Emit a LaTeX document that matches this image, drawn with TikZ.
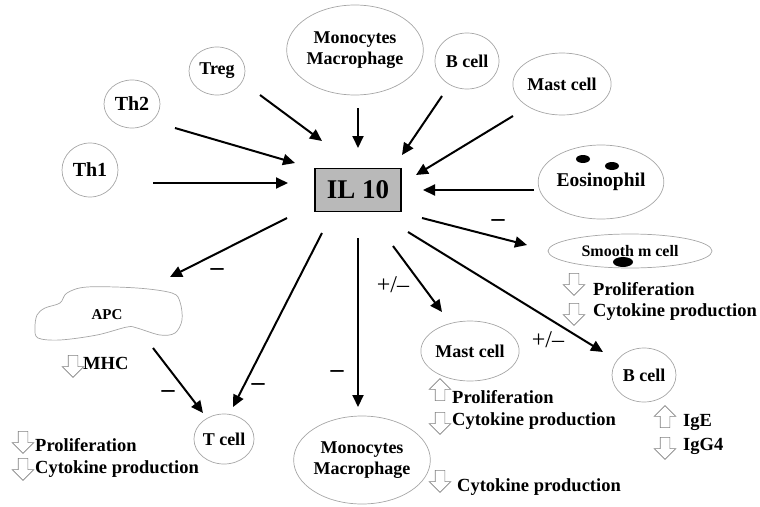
\documentclass[tikz,border=0pt]{standalone}
\usepackage{fontspec}
\setmainfont{Liberation Serif}
\usetikzlibrary{arrows.meta, shapes.geometric, shapes.arrows}

\tikzset{
  cell/.style={ellipse, draw=gray!70, line width=0.7pt, inner sep=0pt, align=center,
    font=\fontsize{18}{21}\selectfont\bfseries},
  arr/.style={-{Triangle[length=12pt, width=11pt]}, line width=2pt},
  hollow/.style={single arrow, draw=gray, line width=0.6pt, inner sep=4.5pt,
    single arrow head extend=6pt, minimum height=22pt},
  hollowdn/.style={hollow, shape border rotate=270},
  hollowup/.style={hollow, shape border rotate=90},
  note/.style={anchor=base west, inner sep=0pt, font=\fontsize{18.5}{21}\selectfont\bfseries},
  effect/.style={inner sep=0pt, font=\fontsize{26}{26}\selectfont\bfseries},
  mixed/.style={inner sep=0pt, font=\fontsize{24}{24}\selectfont}
}

\begin{document}
\begin{tikzpicture}[x=1pt, y=-1pt]
  \useasboundingbox (0,0) rectangle (760,506);

  % cells producing IL 10
  \node[cell, minimum width=56pt, minimum height=54pt, font=\fontsize{20}{22}\selectfont\bfseries] (th1) at (90,170) {Th1};
  \node[cell, minimum width=56pt, minimum height=48pt, font=\fontsize{20}{22}\selectfont\bfseries] (th2) at (132,104) {Th2};
  \node[cell, minimum width=56pt, minimum height=48pt] (treg) at (217,71) {Treg};
  \node[cell, minimum width=134pt, minimum height=90pt] (monoA) at (355,50) {Monocytes\\Macrophage};
  \node[cell, minimum width=64pt, minimum height=56pt] (bcellA) at (467,61) {B cell};
  \node[cell, minimum width=86pt, minimum height=62pt] (mastA) at (562,84) {Mast cell};
  \node[cell, minimum width=106pt, minimum height=74pt, font=\fontsize{19.5}{22}\selectfont\bfseries] (eos) at (601,182) {Eosinophil};
  \fill (583,159) ellipse [x radius=7, y radius=4];
  \fill (612,166) ellipse [x radius=7, y radius=4];

  % IL 10
  \node[draw, line width=1.5pt, fill=gray!55, minimum width=86pt, minimum height=43pt,
    font=\fontsize{27}{30}\selectfont\bfseries] (il) at (358,190) {IL 10};

  % target cells
  \node[cell, minimum width=164pt, minimum height=34pt, font=\fontsize{16}{18}\selectfont\bfseries] (smooth) at (630,251) {Smooth m cell};
  \fill (623,262) ellipse [x radius=10, y radius=5];
  \node[inner sep=0pt, font=\fontsize{15}{17}\selectfont\bfseries] (apc) at (107,315) {APC};
  \draw[gray!70, line width=0.7pt] plot[smooth cycle, tension=0.55] coordinates {
    (37,315) (45,308) (60,303) (67,293) (87,287) (137,288) (172,293) (180,302)
    (182,320) (175,333) (160,335) (137,328) (127,327) (97,335) (60,340) (38,338) (35,328)};
  \node[cell, minimum width=58pt, minimum height=50pt] (tcell) at (224,439) {T cell};
  \node[cell, minimum width=132pt, minimum height=88pt] (monoB) at (362,460) {Monocytes\\Macrophage};
  \node[cell, minimum width=84pt, minimum height=60pt] (mastB) at (470,351) {Mast cell};
  \node[cell, minimum width=64pt, minimum height=54pt] (bcellB) at (644,375) {B cell};

  % arrows into IL 10
  \draw[arr] ([shift={(63,13)}]th1.center) -- ([shift={(-70,-7)}]il.center);
  \draw[arr] ([shift={(43,24)}]th2.center) -- ([shift={(-63,-27)}]il.center);
  \draw[arr] ([shift={(43,24)}]treg.center) -- ([shift={(-36,-49)}]il.center);
  \draw[arr] ([shift={(3,58)}]monoA.center) -- ([shift={(0,-42)}]il.center);
  \draw[arr] ([shift={(-25,35)}]bcellA.center) -- ([shift={(44,-35)}]il.center);
  \draw[arr] ([shift={(-49,32)}]mastA.center) -- ([shift={(58,-15)}]il.center);
  \draw[arr] ([shift={(-67,8)}]eos.center) -- ([shift={(65,0)}]il.center);

  % arrows out of IL 10
  \draw[arr] ([shift={(64,28)}]il.center) -- ([shift={(-103,-6)}]smooth.center);
  \draw[arr] ([shift={(-71,28)}]il.center) -- ([shift={(63,-38)}]apc.center);
  \draw[arr] ([shift={(-36,43)}]il.center) -- ([shift={(9,-32)}]tcell.center);
  \draw[arr] ([shift={(46,33)}]apc.center) -- ([shift={(-21,-26)}]tcell.center);
  \draw[arr] ([shift={(0,48)}]il.center) -- ([shift={(-4,-53)}]monoB.center);
  \draw[arr] ([shift={(35,56)}]il.center) -- ([shift={(-28,-39)}]mastB.center);
  \draw[arr] ([shift={(50,42)}]il.center) -- ([shift={(-41,-23)}]bcellB.center);

  % signs
  \node[effect] (e1) at (498,223) {–};
  \node[effect] (e2) at (217,272) {–};
  \node[effect] (e3) at (258,387) {–};
  \node[effect] (e4) at (168,394) {–};
  \node[effect] (e5) at (337,374) {–};
  \node[mixed] (e6) at (393,285) {+/–};
  \node[mixed] (e7) at (548,340) {+/–};

  % effects
  \node[hollowdn] (s1) at (574,282) {};
  \node[note] (st1) at (593,295) {Proliferation};
  \node[hollowdn] (s2) at (574,312) {};
  \node[note] (st2) at (593,316) {Cytokine production};

  \node[hollowdn] (a1) at (73,364) {};
  \node[note] (at1) at (83,369) {MHC};

  \node[hollowdn] (t1) at (23,440) {};
  \node[note] (tt1) at (35,451) {Proliferation};
  \node[hollowdn] (t2) at (23,467) {};
  \node[note] (tt2) at (35,473) {Cytokine production};

  \node[hollowup] (m1) at (440,392) {};
  \node[note] (mt1) at (452,403) {Proliferation};
  \node[hollowdn] (m2) at (440,421) {};
  \node[note] (mt2) at (452,425) {Cytokine production};

  \node[hollowup] (b1) at (665,419) {};
  \node[note] (bt1) at (683,426) {IgE};
  \node[hollowdn] (b2) at (665,446) {};
  \node[note] (bt2) at (683,450) {IgG4};

  \node[hollowdn] (o1) at (440,479) {};
  \node[note] (ot1) at (457,491) {Cytokine production};
\end{tikzpicture}
\end{document}
